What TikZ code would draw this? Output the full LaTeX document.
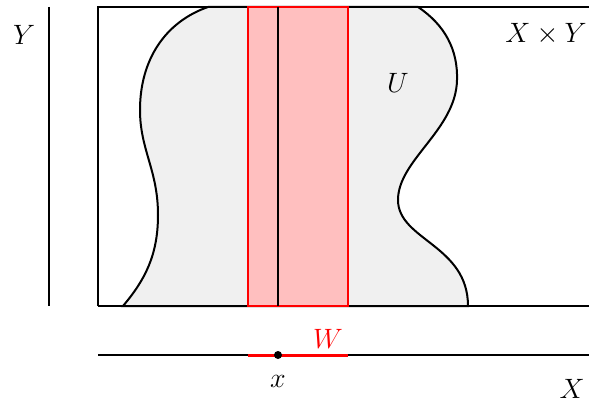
\RequirePackage{fix-cm}
\documentclass[tikz,border=0pt]{standalone}
\usepackage{amsmath,amssymb}
\usepackage{tikz}
\usetikzlibrary{calc}
\usepackage{xcolor}

\begin{document}
\begin{tikzpicture}[x=1pt,y=-1pt,line width=2pt,
  lbl/.style={font=\fontsize{28}{34}\selectfont,inner sep=0pt}]
  \useasboundingbox (0,0) rectangle (589,404);
  % the open set U
  \draw[fill=black!6] (123,306) .. controls (145,280) and (158,255) .. (158,215)
    .. controls (158,170) and (140,150) .. (140,110)
    .. controls (140,60) and (165,22) .. (208,7) -- (418,7)
    .. controls (445,25) and (458,50) .. (457,80)
    .. controls (456,130) and (398,160) .. (398,200)
    .. controls (398,240) and (468,245) .. (468,306) -- cycle;
  % the product X x Y
  \draw (98,306) -- (98,7) -- (592,7);
  \draw (98,306) -- (592,306);
  % the strip W x Y and the fibre over x
  \draw[red,fill=red!25] (248,7) rectangle (348,306);
  \draw (278,7) -- (278,306);
  % the factors
  \draw (49,7) -- (49,306);
  \draw (98,355) -- (592,355);
  \draw[red,line width=3pt] (248,355) -- (348,355);
  \fill (278,355) circle (4pt);
  \node[lbl] (lY) at (24,35) {$Y$};
  \node[lbl] (lXY) at (546,34) {$X\times Y$};
  \node[lbl] (lU) at (398,83) {$U$};
  \node[lbl,red] (lW) at (328,339) {$W$};
  \node[lbl] (lx) at (278,381) {$x$};
  \node[lbl] (lX) at (572,389) {$X$};
\end{tikzpicture}
\end{document}
